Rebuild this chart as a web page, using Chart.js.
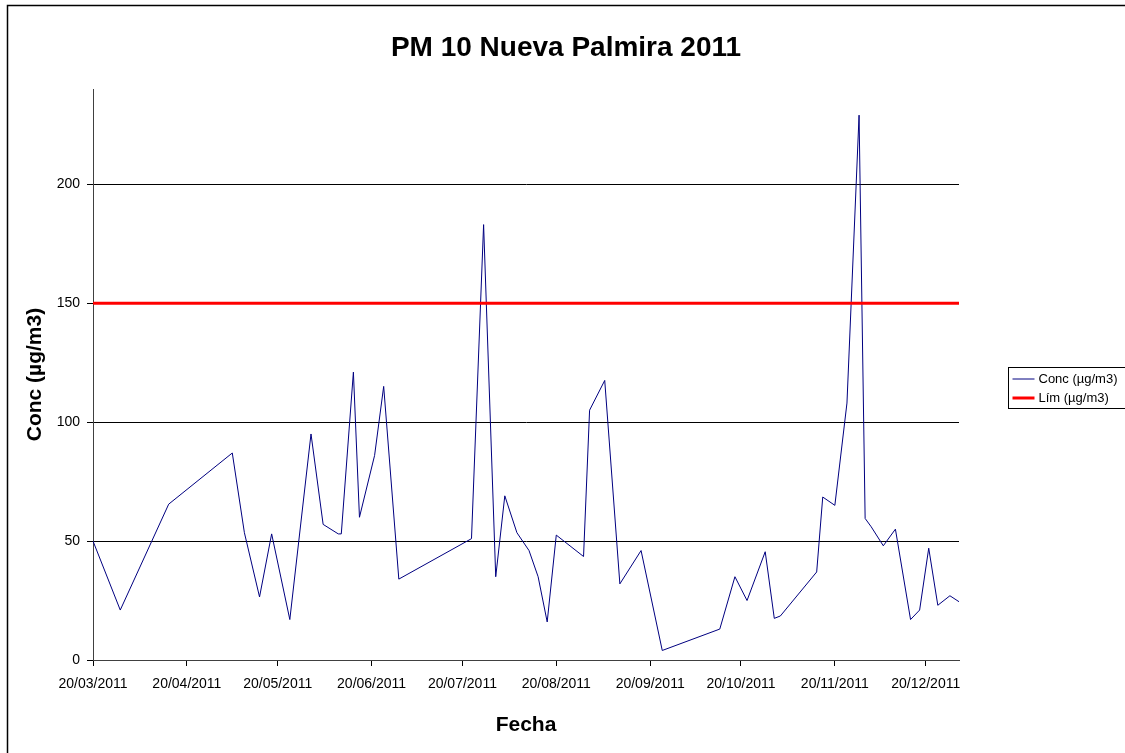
<!DOCTYPE html>
<html lang="es">
<head>
<meta charset="UTF-8" />
<title>PM 10 Nueva Palmira 2011</title>
<script src="https://cdn.jsdelivr.net/npm/chart.js"></script>
<style>
  html, body { margin: 0; padding: 0; background: #fff; }
</style>
</head>
<body>
<canvas id="chart" width="1125" height="753"></canvas>
<script>
// fechas de muestreo y concentraciones
const fechas = ["20/03/2011","29/03/2011","14/04/2011","05/05/2011","09/05/2011","14/05/2011","18/05/2011","24/05/2011","31/05/2011","04/06/2011",
                "09/06/2011","10/06/2011","14/06/2011","16/06/2011","21/06/2011","24/06/2011","29/06/2011","23/07/2011","27/07/2011","31/07/2011",
                "03/08/2011","07/08/2011","11/08/2011","14/08/2011","17/08/2011","20/08/2011","29/08/2011","31/08/2011","05/09/2011","10/09/2011",
                "17/09/2011","24/09/2011","13/10/2011","18/10/2011","22/10/2011","28/10/2011","31/10/2011","02/11/2011","14/11/2011","16/11/2011",
                "20/11/2011","24/11/2011","28/11/2011","30/11/2011","02/12/2011","06/12/2011","10/12/2011","15/12/2011","18/12/2011","21/12/2011",
                "24/12/2011","28/12/2011","31/12/2011"];
const conc = [50, 21, 65.5, 87, 53.5, 26.5, 53, 17, 95, 57,
              53, 53, 121, 60, 86, 115, 34, 51, 183, 35,
              69, 53.5, 46, 35, 16, 52.5, 43.5, 105, 117.5, 32,
              46, 4, 13, 35, 25, 45.5, 17.5, 18.5, 37, 68.5,
              65, 108, 229, 59.5, 56, 48, 55, 17, 21, 47,
              23, 27, 24.5];
const limite = 150;
const ejeInicio = "20/03/2011";
const ejeFin = "31/12/2011";
const ticksX = ["20/03/2011","20/04/2011","20/05/2011","20/06/2011","20/07/2011","20/08/2011",
                "20/09/2011","20/10/2011","20/11/2011","20/12/2011"];
const ticksY = [0, 50, 100, 150, 200];
const yMax = 240;

function toMs(s) {
    const [d, m, y] = s.split("/").map(Number);
    return Date.UTC(y, m - 1, d);
}
function fmt(ms) {
    const dt = new Date(ms);
    const p = (n) => String(n).padStart(2, "0");
    return p(dt.getUTCDate()) + "/" + p(dt.getUTCMonth() + 1) + "/" + dt.getUTCFullYear();
}

Chart.defaults.font.family = '"Liberation Sans", Arial, sans-serif';
Chart.defaults.color = "#000";

const marco = {
    id: "marco",
    beforeDraw(chart) {
        const ctx = chart.ctx;
        ctx.save();
        ctx.fillStyle = "#fff";
        ctx.fillRect(0, 0, chart.width, chart.height);
        ctx.strokeStyle = "#000";
        ctx.lineWidth = 1.5;
        ctx.strokeRect(7.5, 5.5, chart.width + 10, chart.height + 10);
        ctx.restore();
    }
};

const leyenda = {
    id: "leyenda",
    afterDraw(chart) {
        const ctx = chart.ctx;
        const x0 = chart.chartArea.right + 49.5;
        const y0 = 367.5;
        ctx.save();
        ctx.strokeStyle = "#000";
        ctx.lineWidth = 1;
        ctx.strokeRect(x0, y0, 130, 41);
        ctx.font = '13px "Liberation Sans", Arial, sans-serif';
        ctx.textBaseline = "middle";
        chart.data.datasets.forEach((ds, i) => {
            const cy = y0 + 11.5 + i * 19;
            ctx.strokeStyle = ds.borderColor;
            ctx.lineWidth = ds.borderWidth;
            ctx.beginPath();
            ctx.moveTo(x0 + 4, cy);
            ctx.lineTo(x0 + 26, cy);
            ctx.stroke();
            ctx.fillStyle = "#000";
            ctx.fillText(ds.label, x0 + 30, cy);
        });
        ctx.restore();
    }
};

new Chart(document.getElementById("chart"), {
    type: "line",
    data: {
        datasets: [
            {
                label: "Conc (µg/m3)",
                data: fechas.map((f, i) => ({ x: toMs(f), y: conc[i] })),
                borderColor: "#000080",
                borderWidth: 1,
                pointRadius: 0,
                tension: 0,
                order: 1
            },
            {
                label: "Lím (µg/m3)",
                data: [{ x: toMs(ejeInicio), y: limite }, { x: toMs(ejeFin), y: limite }],
                borderColor: "#ff0000",
                borderWidth: 3,
                pointRadius: 0,
                order: 0
            }
        ]
    },
    options: {
        responsive: false,
        animation: false,
        devicePixelRatio: 1,
        layout: { padding: { left: 7, right: 0, top: 0, bottom: 0 } },
        plugins: {
            legend: { display: false },
            tooltip: { enabled: false },
            title: {
                display: true,
                text: "PM 10 Nueva Palmira 2011",
                font: { size: 28, weight: "bold" },
                color: "#000",
                padding: { top: 31, bottom: 24.4 }
            }
        },
        scales: {
            x: {
                type: "linear",
                min: toMs(ejeInicio),
                max: toMs(ejeFin),
                afterBuildTicks: (s) => { s.ticks = ticksX.map((t) => ({ value: toMs(t) })); },
                afterFit: (s) => { s.height = 93; },
                ticks: {
                    autoSkip: false,
                    maxRotation: 0,
                    font: { size: 14 },
                    color: "#000",
                    padding: 10,
                    callback: (v) => fmt(v)
                },
                grid: { drawOnChartArea: false, drawTicks: true, tickLength: 6, color: "#000" },
                border: { display: true, color: "#404040", width: 1 },
                title: {
                    display: true,
                    text: "Fecha",
                    font: { size: 21, weight: "bold" },
                    color: "#000",
                    padding: { top: 0, bottom: 15.4 }
                }
            },
            y: {
                min: 0,
                max: yMax,
                afterBuildTicks: (s) => { s.ticks = ticksY.map((v) => ({ value: v })); },
                afterFit: (s) => { s.width = 86; },
                ticks: { font: { size: 14 }, color: "#000", padding: 7 },
                grid: { color: "#000", lineWidth: 1, drawTicks: true, tickLength: 6, tickColor: "#000" },
                border: { display: true, color: "#404040", width: 1 },
                title: {
                    display: true,
                    text: "Conc (µg/m3)",
                    font: { size: 21, weight: "bold" },
                    color: "#000",
                    padding: { top: 15.4, bottom: 0 }
                }
            },
            hueco: {
                type: "linear",
                axis: "y",
                position: "right",
                display: true,
                ticks: { display: false },
                grid: { display: false },
                border: { display: false },
                afterFit: (s) => { s.width = 166; }
            }
        }
    },
    plugins: [marco, leyenda]
});
</script>
</body>
</html>
